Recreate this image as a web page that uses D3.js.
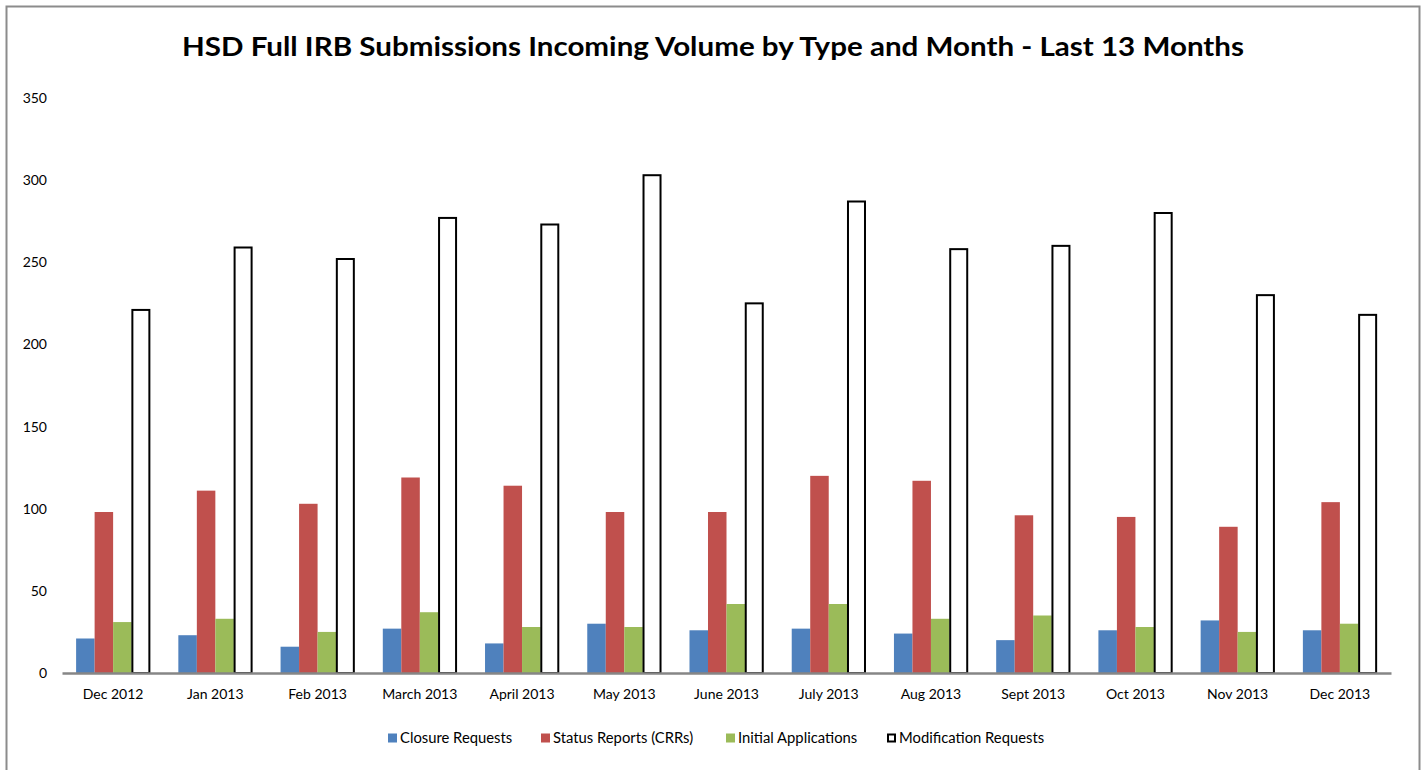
<!DOCTYPE html>
<html>
<head>
<meta charset="utf-8">
<script src="https://cdn.jsdelivr.net/npm/d3@7"></script>
<style>
  body { margin: 0; background: #fff; }
  svg { display: block; font-family: Lato, "Open Sans", sans-serif; }
</style>
</head>
<body>
<div id="chart"></div>
<script>
const months = ["Dec 2012", "Jan 2013", "Feb 2013", "March 2013", "April 2013", "May 2013",
  "June 2013", "July 2013", "Aug 2013", "Sept 2013", "Oct 2013", "Nov 2013", "Dec 2013"];
const closureRequests = [21, 23, 16, 27, 18, 30, 26, 27, 24, 20, 26, 32, 26];
const statusReports = [98, 111, 103, 119, 114, 98, 98, 120, 117, 96, 95, 89, 104];
const initialApplications = [31, 33, 25, 37, 28, 28, 42, 42, 33, 35, 28, 25, 30];
const modificationRequests = [221, 259, 252, 277, 273, 303, 225, 287, 258, 260, 280, 230, 218];
const seriesNames = ["Closure Requests", "Status Reports (CRRs)", "Initial Applications", "Modification Requests"];
const yTicks = [0, 50, 100, 150, 200, 250, 300, 350];

const series = [
  { name: seriesNames[0], values: closureRequests, fill: "#4F81BD", stroke: "none" },
  { name: seriesNames[1], values: statusReports, fill: "#C0504D", stroke: "none" },
  { name: seriesNames[2], values: initialApplications, fill: "#9BBB59", stroke: "none" },
  { name: seriesNames[3], values: modificationRequests, fill: "#ffffff", stroke: "#000" }
];

const W = 1426, H = 770;
const margin = { top: 98, right: 35, bottom: 97, left: 62 };
const width = W - margin.left - margin.right;
const height = H - margin.top - margin.bottom;

const svg = d3.select("#chart").append("svg")
  .attr("width", W)
  .attr("height", H);

// outer frame
svg.append("rect")
  .attr("x", 6.5).attr("y", 6.5)
  .attr("width", 1413).attr("height", 820)
  .attr("fill", "none")
  .attr("stroke", "#8c8c8c")
  .attr("stroke-width", 2);

svg.append("text")
  .attr("x", 713)
  .attr("y", 56)
  .attr("text-anchor", "middle")
  .style("font-size", "26px")
  .style("font-weight", "bold")
  .attr("textLength", 1062)
  .attr("lengthAdjust", "spacingAndGlyphs")
  .text("HSD Full IRB Submissions Incoming Volume by Type and Month - Last 13 Months");

const g = svg.append("g").attr("transform", `translate(${margin.left},${margin.top})`);

const x = d3.scaleBand().domain(months).range([0, width]).paddingInner(0.276).paddingOuter(0.138);
const x1 = d3.scaleBand().domain(seriesNames).range([0, x.bandwidth()]);
const y = d3.scaleLinear().domain([0, 350]).range([height, 0]);

// y axis labels
const yAxis = g.append("g")
  .call(d3.axisLeft(y).tickValues(yTicks).tickSize(0).tickPadding(15));
yAxis.select(".domain").remove();
yAxis.selectAll("text").style("font-size", "14px").style("font-family", "Lato, sans-serif").attr("fill", "#000");

// bars
series.forEach(s => {
  g.selectAll(null)
    .data(s.values)
    .enter().append("rect")
    .attr("x", (d, i) => x(months[i]) + x1(s.name) + (s.stroke === "none" ? 0 : 0.75))
    .attr("y", d => y(d))
    .attr("width", s.stroke === "none" ? x1.bandwidth() : x1.bandwidth() - 1.5)
    .attr("height", d => y(0) - y(d))
    .attr("fill", s.fill)
    .attr("stroke", s.stroke)
    .attr("stroke-width", 2);
});

// x axis
const xAxis = g.append("g")
  .attr("transform", `translate(0,${height})`)
  .call(d3.axisBottom(x).tickSize(0).tickPadding(16));
xAxis.select(".domain").attr("stroke", "#868686").attr("stroke-width", 2.5);
xAxis.selectAll("text").style("font-size", "14px").style("font-family", "Lato, sans-serif").attr("fill", "#000");

// legend
const legendX = [388, 541, 726, 887];
const legend = svg.append("g").attr("transform", "translate(0,738)");
series.forEach((s, i) => {
  const item = legend.append("g").attr("transform", `translate(${legendX[i]},0)`);
  item.append("rect")
    .attr("x", s.stroke === "none" ? 0 : 1).attr("y", s.stroke === "none" ? -4.5 : -3.5)
    .attr("width", s.stroke === "none" ? 9 : 7).attr("height", s.stroke === "none" ? 9 : 7)
    .attr("fill", s.fill)
    .attr("stroke", s.stroke)
    .attr("stroke-width", 2);
  item.append("text")
    .attr("x", 12)
    .attr("y", 0)
    .attr("dy", "0.35em")
    .style("font-size", "14.8px")
    .text(s.name);
});
</script>
</body>
</html>
